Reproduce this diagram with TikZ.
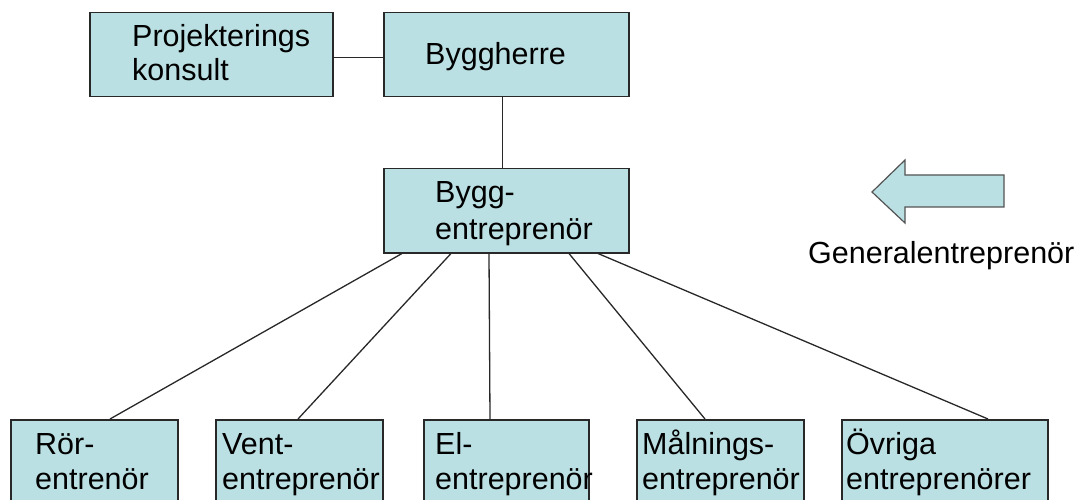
\documentclass[tikz,border=0pt]{standalone}
\usepackage{fontspec}
\setmainfont{Liberation Sans}
\usetikzlibrary{calc}
\definecolor{boxfill}{RGB}{187,224,227}
\definecolor{edge}{RGB}{40,40,40}
\begin{document}
\begin{tikzpicture}[x=1pt,y=-1pt,
  box/.style={draw=edge,line width=1.5pt,fill=boxfill,rectangle,inner sep=0pt,anchor=north west},
  lbl/.style={inner sep=0pt,anchor=base west,align=left,
    font=\fontsize{30.5}{35}\selectfont},
  link/.style={draw=edge,line width=1.3pt}]
\useasboundingbox (0,0) rectangle (1080,500);
\clip (0,0) rectangle (1080,500);

% top level
\node[box,minimum width=243pt,minimum height=84pt] (proj) at (89,12) {};
\node[box,minimum width=245pt,minimum height=84pt] (herre) at (383,12) {};
\node[box,minimum width=245pt,minimum height=84pt] (bygg) at (383,168) {};

% subcontractors (boxes run past the lower edge)
\node[box,minimum width=167pt,minimum height=110pt] (ror) at (10,419) {};
\node[box,minimum width=167pt,minimum height=110pt] (vent) at (215,419) {};
\node[box,minimum width=165pt,minimum height=110pt] (el) at (423,419) {};
\node[box,minimum width=167pt,minimum height=110pt] (maln) at (636,419) {};
\node[box,minimum width=206pt,minimum height=110pt] (ovr) at (841,419) {};

% connectors
\draw[link] ($(proj.east)+(0,3)$) -- ($(herre.west)+(0,3)$);
\draw[link] ($(herre.south)+(-4,0)$) -- ($(bygg.north)+(-4,0)$);
\draw[link] ($(bygg.south west)+(19,0)$) -- ($(ror.north west)+(100,0)$);
\draw[link] ($(bygg.south west)+(68,0)$) -- ($(vent.north west)+(83,0)$);
\draw[link] ($(bygg.south west)+(106,0)$) -- ($(el.north west)+(67,0)$);
\draw[link] ($(bygg.south west)+(186,0)$) -- ($(maln.north west)+(69,0)$);
\draw[link] ($(bygg.south west)+(215,0)$) -- ($(ovr.north west)+(147,0)$);

% labels (multi-line labels are placed by the baseline of their last line)
\node[lbl] (tproj) at (132,81) {Projekterings\\[-1pt]konsult};
\node[lbl] (therre) at (425,65) {Byggherre};
\node[lbl] (tbygg) at (435,240) {Bygg-\\[2pt]entreprenör};
\node[lbl] (tror) at (35,489) {Rör-\\entrenör};
\node[lbl] (tvent) at (222,489) {Vent-\\entreprenör};
\node[lbl] (tel) at (435,489) {El-\\entreprenör};
\node[lbl] (tmaln) at (642,489) {Målnings-\\entreprenör};
\node[lbl] (tovr) at (846,489) {Övriga\\entreprenörer};

% block arrow pointing left
\filldraw[fill=boxfill,draw=edge!80,line width=1.2pt,line join=miter]
  (872,192) -- (905,160) -- (905,175) -- (1004,175) -- (1004,207)
  -- (905,207) -- (905,223) -- cycle;
\node[lbl] (tgen) at (808,263) {Generalentreprenör};
\end{tikzpicture}
\end{document}
